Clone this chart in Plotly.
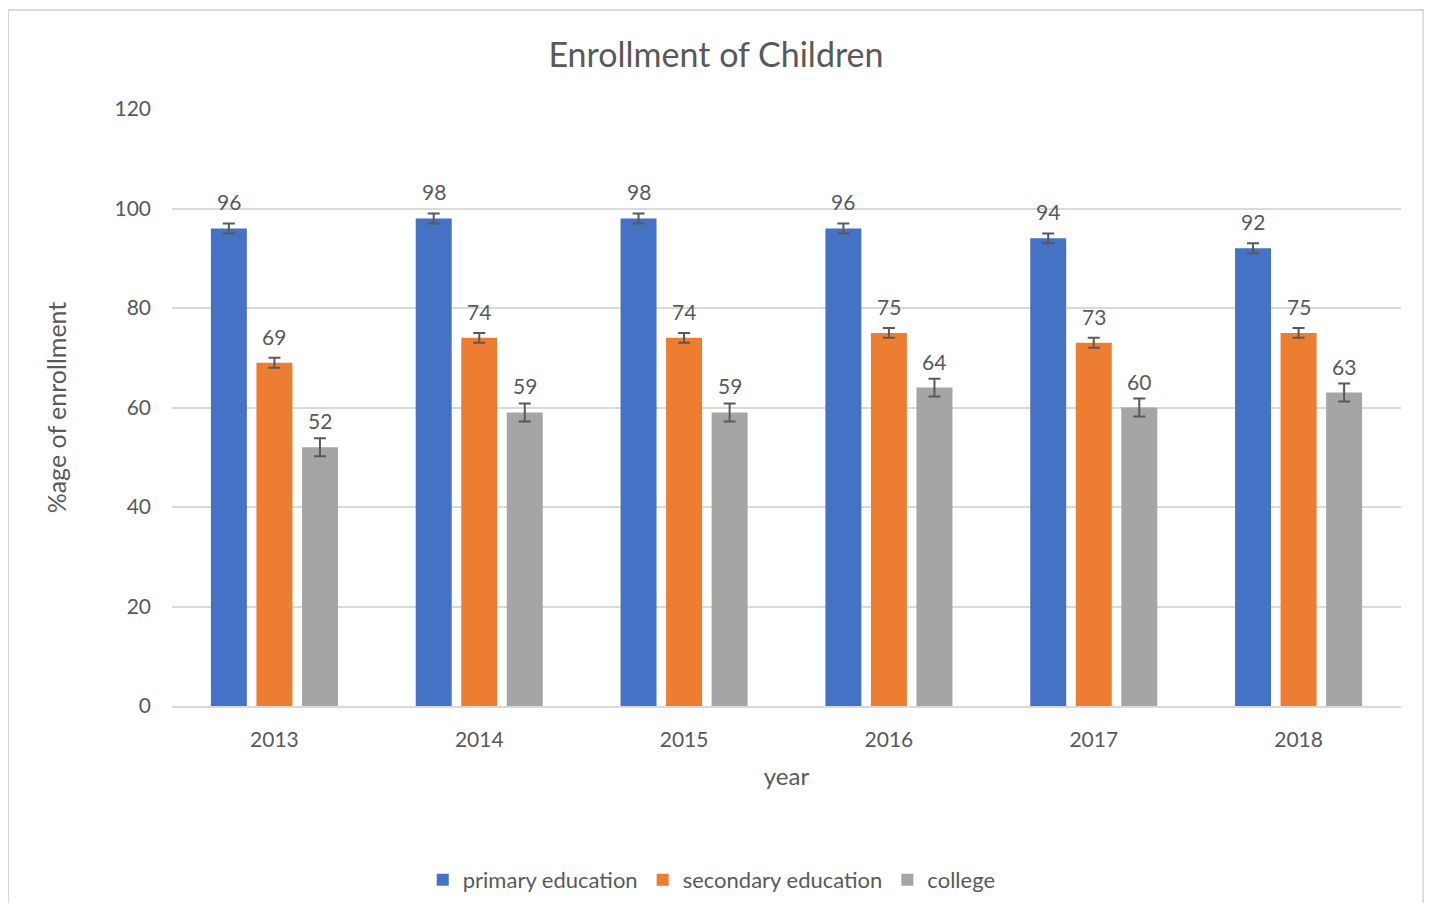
import plotly.graph_objects as go

years = ["2013", "2014", "2015", "2016", "2017", "2018"]
primary = [96, 98, 98, 96, 94, 92]
secondary = [69, 74, 74, 75, 73, 75]
college = [52, 59, 59, 64, 60, 63]
primary_err = [1, 1, 1, 1, 1, 1]
secondary_err = [1, 1, 1, 1, 1, 1]
college_err = [1.8, 1.8, 1.8, 1.8, 1.8, 1.8]

series = [
    ("primary education", primary, primary_err, "#4472C4"),
    ("secondary education", secondary, secondary_err, "#ED7D31"),
    ("college", college, college_err, "#A5A5A5"),
]

FONT = "Lato"
TXT = "#595959"
BARGAP = 0.333
x_idx = list(range(len(years)))

W, H = 1416, 895
fig = go.Figure()
for name, vals, errs, color in series:
    fig.add_trace(go.Bar(
        x=x_idx, y=vals, name=name,
        marker=dict(color=color, line=dict(width=0)),
        error_y=dict(type="data", array=errs, visible=True, color="#595959",
                     thickness=2, width=6),
    ))

annotations = []
slot = (1 - BARGAP) / len(series)
for k, (name, vals, errs, color) in enumerate(series):
    off = (k - (len(series) - 1) / 2) * slot
    for i, v in enumerate(vals):
        annotations.append(dict(
            x=i + off, y=v, xref="x", yref="y", text=str(v), showarrow=False,
            yanchor="bottom", yshift=12, font=dict(family=FONT, size=21, color=TXT)))

fig.update_layout(
    width=W, height=H,
    paper_bgcolor="white", plot_bgcolor="white",
    margin=dict(l=164, r=23, t=101, b=197),
    barmode="group", bargap=BARGAP, bargroupgap=0.21,
    title=dict(text="Enrollment of Children", x=0.5, xref="container", xanchor="center",
               y=1 - 47 / H, yref="container", yanchor="middle",
               font=dict(family=FONT, size=34, color=TXT)),
    font=dict(family=FONT, color=TXT),
    annotations=annotations,
    showlegend=True,
    legend=dict(orientation="h", x=0.497, xref="container", xanchor="center",
                y=1 - 872 / H, yref="container", yanchor="middle",
                font=dict(family=FONT, size=22, color=TXT), itemwidth=30,
                traceorder="normal"),
    shapes=[dict(type="rect", xref="paper", yref="paper",
                 x0=-0.1334, x1=1.0182, y0=-0.4, y1=1.1658,
                 line=dict(color="#D9D9D9", width=2))],
)
fig.update_xaxes(
    tickmode="array", tickvals=x_idx, ticktext=years,
    range=[-0.5, len(years) - 0.5],
    showline=True, linecolor="#D9D9D9", linewidth=1.5, ticks="",
    ticklabelstandoff=14,
    tickfont=dict(family=FONT, size=21, color=TXT),
    title=dict(text="year", font=dict(family=FONT, size=24, color=TXT), standoff=18),
)
fig.update_yaxes(
    range=[0, 120], dtick=20, showgrid=True, gridcolor="#D9D9D9", gridwidth=1.5,
    zeroline=False, showline=False, ticks="",
    ticklabelstandoff=20,
    tickfont=dict(family=FONT, size=21, color=TXT),
    title=dict(text="%age of enrollment", font=dict(family=FONT, size=25, color=TXT),
               standoff=40),
)

fig.write_html("out.html")
